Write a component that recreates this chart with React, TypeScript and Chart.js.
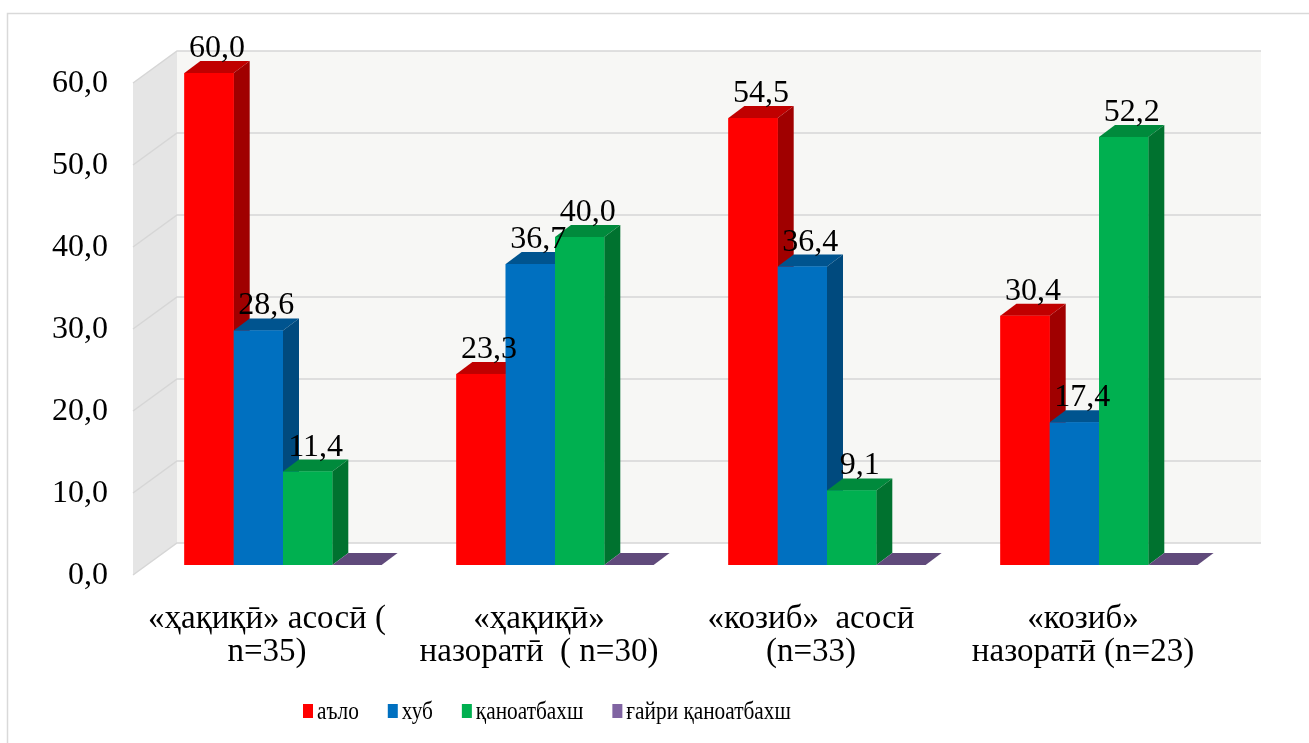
import React, { useEffect, useRef } from 'react';
import { Chart, registerables } from 'chart.js';

Chart.register(...registerables);

// ---- data ----
const categoryLines: string[][] = [
  ['«ҳақиқӣ» асосӣ (', 'n=35)'],
  ['«ҳақиқӣ»', 'назоратӣ  ( n=30)'],
  ['«козиб»  асосӣ', '(n=33)'],
  ['«козиб»', 'назоратӣ (n=23)'],
];
const seriesNames = ['аъло', 'хуб', 'қаноатбахш', 'ғайри қаноатбахш'];
const aloValues = [60.0, 23.3, 54.5, 30.4];
const khubValues = [28.6, 36.7, 36.4, 17.4];
const qanoatValues = [11.4, 40.0, 9.1, 52.2];
const ghayriValues = [0, 0, 0, 0];
const yTicks = [0, 10, 20, 30, 40, 50, 60];

// ---- styles ----
const frontColors = ['#FF0000', '#0070C0', '#00B050', '#8064A2'];
const topColors = ['#C00000', '#00548F', '#008A3C', '#604A7B'];
const sideColors = ['#A00000', '#004A7E', '#00722F', '#51406A'];
const FONT = '"Liberation Serif", "Times New Roman", serif';

const W = 1309;
const H = 743;

// 3D geometry (pixels)
const BAR_DX = 16;
const BAR_DY = -12;
const BACK_DX = 30;
const BACK_DY = -22;
const FRONT_DX = -14;
const FRONT_DY = 10;

const fmt = (v: number) => v.toFixed(1).replace('.', ',');

const threeDPlugin = {
  id: 'threeD',
  beforeDatasetsDraw(chart: any) {
    const { ctx, chartArea: ca } = chart;
    const y = chart.scales.y;
    const fy = (v: number) => y.getPixelForValue(v);
    const top = yTicks[yTicks.length - 1];
    ctx.save();
    const bl = ca.left + BACK_DX;
    const br = ca.right + 26;
    // back wall
    ctx.fillStyle = '#F7F7F5';
    ctx.fillRect(bl, fy(top) + BACK_DY, br - bl, fy(0) - fy(top));
    // side wall
    ctx.fillStyle = '#E5E5E5';
    ctx.beginPath();
    ctx.moveTo(ca.left + FRONT_DX, fy(0) + FRONT_DY);
    ctx.lineTo(ca.left + FRONT_DX, fy(top) + FRONT_DY);
    ctx.lineTo(bl, fy(top) + BACK_DY);
    ctx.lineTo(bl, fy(0) + BACK_DY);
    ctx.closePath();
    ctx.fill();
    // grid lines
    ctx.strokeStyle = '#D6D6D6';
    ctx.lineWidth = 1.5;
    for (const t of yTicks) {
      const p = fy(t);
      ctx.beginPath();
      ctx.moveTo(ca.left + FRONT_DX, p + FRONT_DY);
      ctx.lineTo(bl, p + BACK_DY);
      ctx.lineTo(br, p + BACK_DY);
      ctx.stroke();
    }
    // y tick labels
    ctx.fillStyle = '#000';
    ctx.font = `32px ${FONT}`;
    ctx.textAlign = 'right';
    ctx.textBaseline = 'middle';
    for (const t of yTicks) {
      ctx.fillText(fmt(t), 108, fy(t) + FRONT_DY + 1);
    }
    // category labels
    const x = chart.scales.x;
    ctx.font = `33px ${FONT}`;
    ctx.textAlign = 'center';
    ctx.textBaseline = 'alphabetic';
    categoryLines.forEach((lines, j) => {
      const cx = x.getPixelForValue(j) - 16;
      lines.forEach((ln, k) => {
        ctx.fillText(ln, cx, fy(0) + 63 + k * 33);
      });
    });
    // outer border
    ctx.strokeStyle = '#D9D9D9';
    ctx.lineWidth = 1.5;
    ctx.beginPath();
    ctx.moveTo(7.5, H);
    ctx.lineTo(7.5, 13.5);
    ctx.lineTo(W, 13.5);
    ctx.stroke();
    ctx.restore();
  },
  afterDatasetsDraw(chart: any) {
    const { ctx } = chart;
    const n = chart.data.datasets.length;
    const nCat = chart.data.labels.length;
    ctx.save();
    for (let j = 0; j < nCat; j++) {
      for (let i = 0; i < n; i++) {
        const el = chart.getDatasetMeta(i).data[j];
        const { x, y, base, width } = el.getProps(['x', 'y', 'base', 'width'], true);
        const xL = x - width / 2;
        const xR = x + width / 2;
        // top face
        ctx.fillStyle = topColors[i];
        ctx.beginPath();
        ctx.moveTo(xL, y);
        ctx.lineTo(xR, y);
        ctx.lineTo(xR + BAR_DX, y + BAR_DY);
        ctx.lineTo(xL + BAR_DX, y + BAR_DY);
        ctx.closePath();
        ctx.fill();
        if (base - y > 0.5) {
          // side face
          ctx.fillStyle = sideColors[i];
          ctx.beginPath();
          ctx.moveTo(xR, y);
          ctx.lineTo(xR + BAR_DX, y + BAR_DY);
          ctx.lineTo(xR + BAR_DX, base + BAR_DY);
          ctx.lineTo(xR, base);
          ctx.closePath();
          ctx.fill();
          // front face
          ctx.fillStyle = frontColors[i];
          ctx.fillRect(xL, y, width, base - y);
        }
      }
    }
    // data labels
    ctx.fillStyle = '#000';
    ctx.font = `32px ${FONT}`;
    ctx.textAlign = 'center';
    ctx.textBaseline = 'alphabetic';
    for (let i = 0; i < n; i++) {
      const vals = chart.data.datasets[i].data as number[];
      chart.getDatasetMeta(i).data.forEach((el: any, j: number) => {
        const v = vals[j];
        if (!v) return;
        const { x, y } = el.getProps(['x', 'y'], true);
        ctx.fillText(fmt(v), x + 8, y - 16);
      });
    }
    // legend
    ctx.font = `26px ${FONT}`;
    ctx.textAlign = 'left';
    const sx = 0.82;
    let lx = 303;
    chart.data.datasets.forEach((ds: any, i: number) => {
      ctx.fillStyle = frontColors[i];
      ctx.fillRect(lx, 704, 10, 14);
      ctx.fillStyle = '#000';
      const tx = lx + 14;
      ctx.save();
      ctx.translate(tx, 719);
      ctx.scale(sx, 1);
      ctx.fillText(ds.label, 0, 0);
      ctx.restore();
      lx = tx + ctx.measureText(ds.label).width * sx + 29;
    });
    ctx.restore();
  },
};

export default function App() {
  const ref = useRef<HTMLCanvasElement | null>(null);
  useEffect(() => {
    if (!ref.current) return;
    const seriesValues = [aloValues, khubValues, qanoatValues, ghayriValues];
    const chart = new Chart(ref.current, {
      type: 'bar',
      data: {
        labels: categoryLines.map((l) => l.join(' ')),
        datasets: seriesNames.map((name, i) => ({
          label: name,
          data: seriesValues[i],
          backgroundColor: frontColors[i],
          borderWidth: 0,
        })),
      },
      options: {
        responsive: false,
        animation: false,
        devicePixelRatio: 1,
        layout: { padding: { left: 147, right: W - 1235, top: 73, bottom: H - 565 } },
        datasets: { bar: { categoryPercentage: 0.725, barPercentage: 1 } } as any,
        plugins: { legend: { display: false }, tooltip: { enabled: false } },
        scales: {
          x: { display: false, offset: true },
          y: { display: false, min: 0, max: 60 },
        },
      },
      plugins: [threeDPlugin],
    });
    return () => chart.destroy();
  }, []);
  return (
    <div style={{ position: 'absolute', left: 0, top: 0, width: W, height: H, background: '#fff' }}>
      <canvas ref={ref} width={W} height={H} style={{ display: 'block' }} />
    </div>
  );
}
